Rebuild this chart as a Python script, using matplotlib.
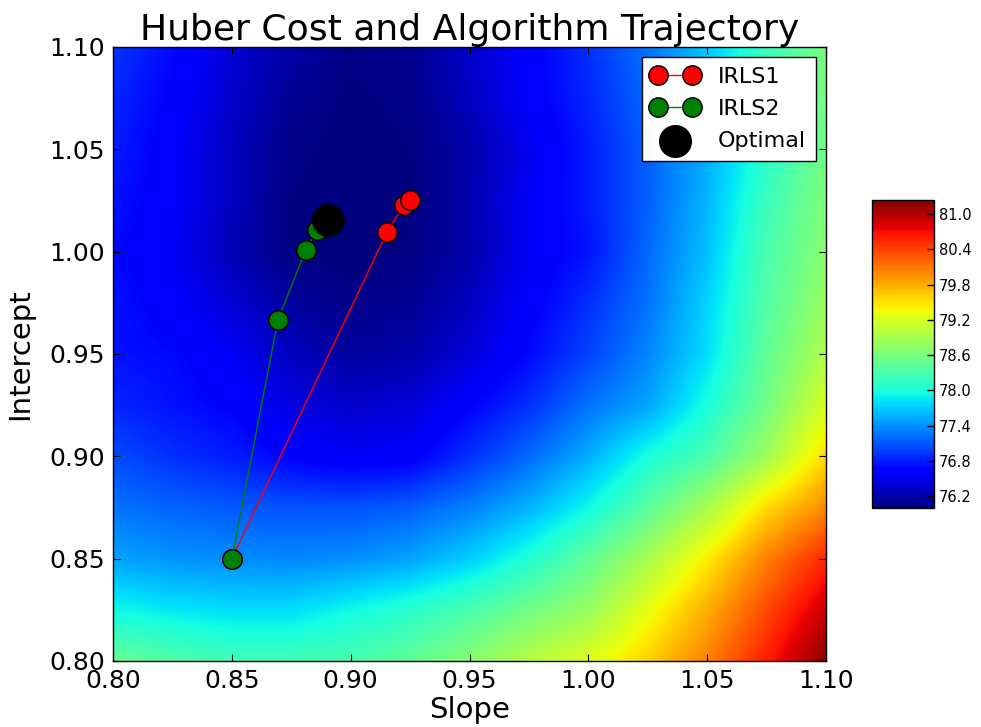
import numpy as np
import matplotlib
matplotlib.use("Agg")
import matplotlib.pyplot as plt

# grid of the cost surface (slope along columns, intercept along rows)
slopes = np.linspace(0.80, 1.10, 13)
intercepts = np.linspace(0.80, 1.10, 13)

# Huber cost on the grid, rows from intercept 0.800 up to 1.100
cost = [
    [78.50, 78.35, 78.25, 78.25, 78.30, 78.45, 78.70, 79.00, 79.25, 79.60, 80.05, 80.60, 81.20],  # 0.800
    [77.95, 77.85, 77.80, 77.80, 77.95, 78.10, 78.30, 78.55, 78.80, 79.30, 79.80, 80.35, 80.90],  # 0.825
    [77.50, 77.42, 77.38, 77.36, 77.40, 77.50, 77.72, 78.05, 78.45, 78.90, 79.45, 80.05, 80.55],  # 0.850
    [77.25, 77.18, 77.12, 77.08, 77.08, 77.15, 77.32, 77.58, 77.95, 78.40, 78.90, 79.55, 80.00],  # 0.875
    [77.05, 76.90, 76.80, 76.65, 76.55, 76.60, 76.90, 77.20, 77.55, 78.00, 78.30, 78.85, 79.55],  # 0.900
    [76.85, 76.75, 76.65, 76.45, 76.35, 76.40, 76.65, 76.90, 77.25, 77.50, 78.00, 78.55, 79.20],  # 0.925
    [76.75, 76.70, 76.55, 76.30, 76.15, 76.20, 76.40, 76.70, 77.00, 77.35, 77.80, 78.45, 78.95],  # 0.950
    [76.75, 76.60, 76.40, 76.15, 76.05, 76.10, 76.30, 76.60, 76.90, 77.25, 77.75, 78.35, 78.80],  # 0.975
    [76.70, 76.55, 76.25, 76.02, 75.98, 76.03, 76.20, 76.55, 76.75, 77.20, 77.65, 78.30, 78.70],  # 1.000
    [76.75, 76.60, 76.30, 76.02, 75.95, 76.00, 76.22, 76.55, 76.80, 77.15, 77.60, 78.20, 78.65],  # 1.025
    [76.80, 76.60, 76.30, 76.05, 75.98, 76.02, 76.20, 76.50, 76.80, 77.15, 77.55, 78.10, 78.55],  # 1.050
    [76.85, 76.65, 76.35, 76.10, 76.00, 76.05, 76.30, 76.60, 76.85, 77.20, 77.60, 78.20, 78.60],  # 1.075
    [76.95, 76.70, 76.40, 76.20, 76.05, 76.10, 76.35, 76.60, 76.90, 77.25, 77.70, 78.20, 78.60],  # 1.100
]

# iterates of the two IRLS variants
irls1_slope = [0.850, 0.9153, 0.9224, 0.9250]
irls1_intercept = [0.850, 1.0096, 1.0228, 1.0250]
irls2_slope = [0.850, 0.8694, 0.8812, 0.8858, 0.8890]
irls2_intercept = [0.850, 0.9666, 1.0010, 1.0106, 1.0140]

opt_slope = [0.8905]
opt_intercept = [1.0155]

cbar_ticks = [76.2, 76.8, 77.4, 78.0, 78.6, 79.2, 79.8, 80.4, 81.0]
axis_ticks = [0.80, 0.85, 0.90, 0.95, 1.00, 1.05, 1.10]

fig = plt.figure(figsize=(9.81, 7.27), dpi=100)
fig.patch.set_facecolor("white")
ax = fig.add_axes([0.1152, 0.0908, 0.7268, 0.8446])

ds = slopes[1] - slopes[0]
di = intercepts[1] - intercepts[0]
img = ax.imshow(np.array(cost), origin="lower", cmap="jet", aspect="auto",
                interpolation="bilinear", interpolation_stage="data",
                extent=[slopes[0] - ds / 2, slopes[-1] + ds / 2,
                        intercepts[0] - di / 2, intercepts[-1] + di / 2],
                vmin=76.0, vmax=81.24)

ax.plot(irls1_slope, irls1_intercept, "o-", color="r", mec="k", mew=1.0,
        ms=14, lw=1.0, label="IRLS1")
ax.plot(irls2_slope, irls2_intercept, "o-", color="g", mec="k", mew=1.0,
        ms=14, lw=1.0, label="IRLS2")
ax.scatter(opt_slope, opt_intercept, s=520, c="k", zorder=3, label="Optimal")

ax.set_xlim(0.80, 1.10)
ax.set_ylim(0.80, 1.10)
ax.set_xticks(axis_ticks)
ax.set_yticks(axis_ticks)
ax.set_xticklabels([f"{t:.2f}" for t in axis_ticks])
ax.set_yticklabels([f"{t:.2f}" for t in axis_ticks])
ax.tick_params(direction="in", top=True, right=True, labelsize=18,
               length=5, pad=6)
for sp in ax.spines.values():
    sp.set_linewidth(1.0)

ax.set_xlabel("Slope", fontsize=21, labelpad=2)
ax.set_ylabel("Intercept", fontsize=21, labelpad=11)
ax.set_title("Huber Cost and Algorithm Trajectory", fontsize=26, pad=5)

leg = ax.legend(loc="upper right", numpoints=2, scatterpoints=1,
                fancybox=False, framealpha=1, edgecolor="k", fontsize=16,
                borderpad=0.45, handlelength=2.13, handletextpad=0.85,
                labelspacing=0.54, borderaxespad=0.45)
leg.get_frame().set_linewidth(1.0)

cax = fig.add_axes([0.8889, 0.3012, 0.0632, 0.4237])
cb = fig.colorbar(img, cax=cax, ticks=cbar_ticks)
cb.ax.set_yticklabels([f"{t:.1f}" for t in cbar_ticks])
cb.ax.tick_params(direction="in", labelsize=10.5, length=5, width=1)
cb.outline.set_linewidth(1.0)

fig.savefig("out.png", dpi=100, facecolor="white")
